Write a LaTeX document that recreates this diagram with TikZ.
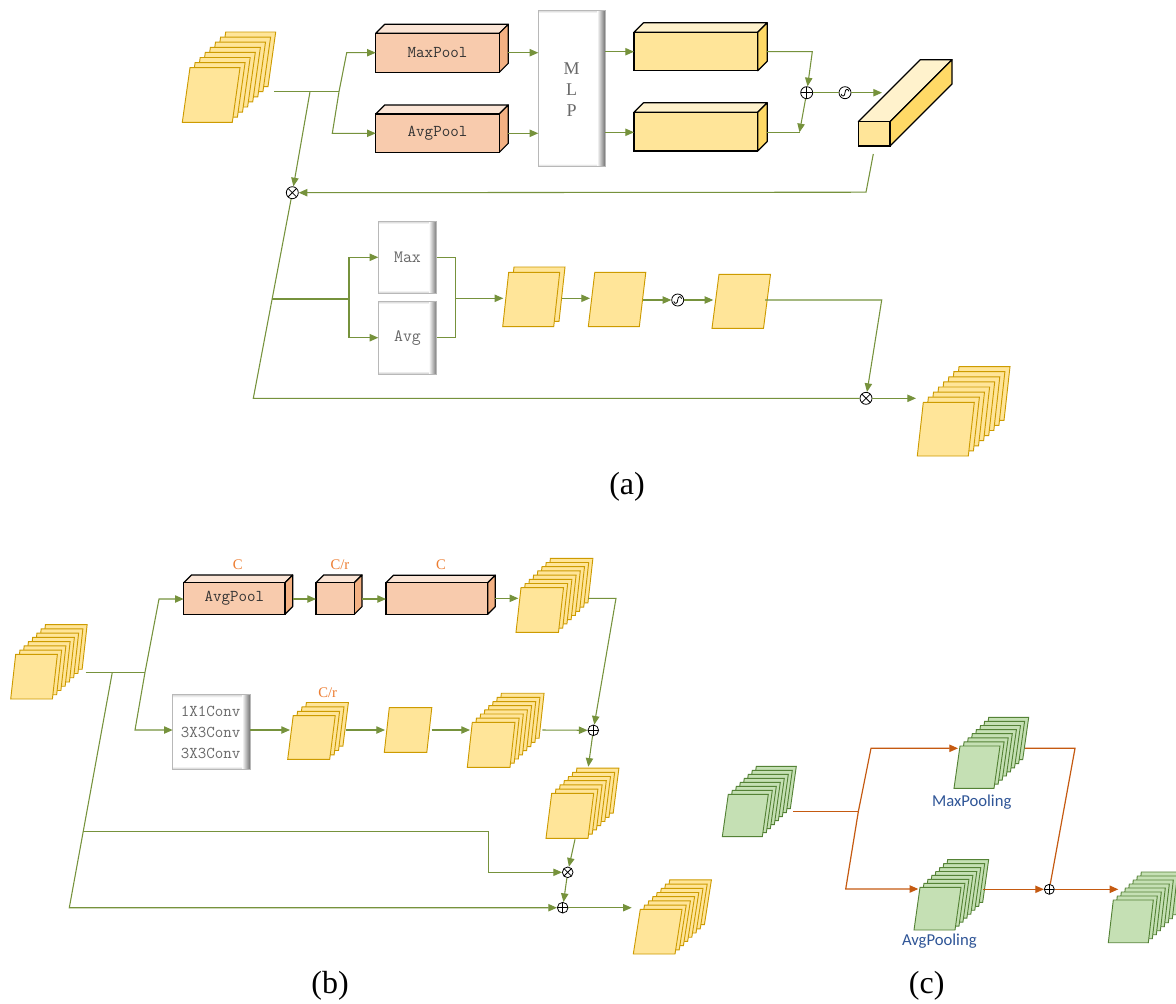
\documentclass[tikz,border=0pt]{standalone}
\usepackage{fontspec}
\setmainfont{Liberation Serif}
\newfontfamily\calfont{Carlito}
\usetikzlibrary{arrows.meta,calc}
\definecolor{lineg}{RGB}{118,146,60}
\definecolor{pagefill}{RGB}{255,229,153}
\definecolor{pagedraw}{RGB}{205,155,0}
\definecolor{gpagefill}{RGB}{197,224,180}
\definecolor{gpagedraw}{RGB}{84,130,53}
\definecolor{peachF}{RGB}{248,203,173}
\definecolor{peachT}{RGB}{251,229,214}
\definecolor{peachS}{RGB}{244,177,131}
\definecolor{yelF}{RGB}{255,229,153}
\definecolor{yelT}{RGB}{255,242,204}
\definecolor{yelS}{RGB}{255,217,102}
\definecolor{orl}{RGB}{197,90,17}
\definecolor{orangetxt}{RGB}{237,125,49}
\definecolor{bluetxt}{RGB}{47,85,151}
\definecolor{graytxt}{RGB}{105,105,105}

% stack of slanted pages: name, x, y (front bottom-left), w, h, slant, n, offset, style
\newcommand{\pagestack}[9]{%
  \pgfmathtruncatemacro{\nlast}{#7-1}%
  \foreach \k in {\nlast,...,0}{%
    \path[#9] ({#2+\k*#8},{#3-\k*#8}) -- ++(#4,0) -- ++(#6,-#5) -- ++(-#4,0) -- cycle;
  }%
  \coordinate (#1) at ({#2+#6/2+#4/2},{#3-#5/2});
}
% cuboid: name, x1, y1, x2, y2 (front face), depth, front, top, side
\newcommand{\cuboid}[9]{%
  \path[draw=black,line width=0.9pt,fill=#8,line join=round] (#2,#3) -- ++(#6,-#6) -- ({#4+#6},{#3-#6}) -- (#4,#3) -- cycle;
  \path[draw=black,line width=0.9pt,fill=#9,line join=round] (#4,#3) -- ++(#6,-#6) -- ({#4+#6},{#5-#6}) -- (#4,#5) -- cycle;
  \path[draw=black,line width=0.9pt,fill=#7] (#2,#3) rectangle (#4,#5);
  \coordinate (#1) at ({(#2+#4)/2},{(#3+#5)/2});
}
% grey glassy box: name, x1, y1, x2, y2
\newcommand{\graybox}[5]{%
  \fill[white] (#2,#3) rectangle (#4,#5);
  \shade[left color=white,right color=black!55] ({#4-8},#3) rectangle (#4,#5);
  \shade[top color=black!18,bottom color=white] (#2,#3) rectangle ({#4-8},{#3+3});
  \shade[top color=white,bottom color=black!22] (#2,{#5-3}) rectangle ({#4-8},#5);
  \draw[black!28,line width=0.6pt] (#2,#3) rectangle (#4,#5);
  \coordinate (#1) at ({(#2+#4)/2},{(#3+#5)/2});
}

\begin{document}
\begin{tikzpicture}[x=0.75pt,y=-0.75pt,
  ln/.style={draw=lineg,line width=0.8pt},
  arr/.style={ln,-{Triangle[length=6.5pt,width=5.5pt]}},
  oln/.style={draw=orl,line width=0.9pt},
  oarr/.style={oln,-{Triangle[length=6.5pt,width=5.5pt]}},
  ypage/.style={fill=pagefill,draw=pagedraw,line width=0.7pt},
  gpage/.style={fill=gpagefill,draw=gpagedraw,line width=0.7pt},
  opsym/.style={circle,draw=black,fill=white,line width=0.6pt,minimum size=9pt,inner sep=0pt},
  oplus/.style={opsym,path picture={\draw[line width=0.6pt] (path picture bounding box.west) -- (path picture bounding box.east) (path picture bounding box.north) -- (path picture bounding box.south);}},
  otimes/.style={opsym,path picture={\draw[line width=0.6pt] (path picture bounding box.north west) -- (path picture bounding box.south east) (path picture bounding box.north east) -- (path picture bounding box.south west);}},
  osig/.style={opsym,path picture={\draw[line width=0.6pt,shift={(path picture bounding box.center)}] (-2.9pt,-1.0pt) .. controls (-2.6pt,-3.2pt) and (0pt,-3.1pt) .. (0pt,0pt) .. controls (0pt,3.1pt) and (2.6pt,3.2pt) .. (2.9pt,1.0pt);}},
  small/.style={minimum size=8pt},
  monot/.style={font=\ttfamily\fontsize{12.4}{15.75}\selectfont,text=black!80,inner sep=0pt},
  monog/.style={font=\ttfamily\fontsize{13}{15.75}\selectfont,text=graytxt,inner sep=0pt},
  otxt/.style={font=\fontsize{11}{13}\selectfont,text=orangetxt,inner sep=0pt},
  btxt/.style={font=\calfont\fontsize{12.5}{14}\selectfont,text=bluetxt,inner sep=0pt},
  captxt/.style={font=\fontsize{24}{28}\selectfont,inner sep=0pt}
]
\clip (0,0) rectangle (1176,1003);
\fill[white] (0,0) rectangle (1176,1003);

%================ (a) =================
\pagestack{ain}{182.3}{122.3}{50}{54.6}{7.7}{8}{5.1}{ypage}
\cuboid{mp}{375.7}{33.3}{499.3}{72.3}{9}{peachF}{peachT}{peachS}
\cuboid{ap}{375.7}{114}{499.3}{152.3}{9}{peachF}{peachT}{peachS}
\node[monot] (tmp) at (mp) {MaxPool};
\node[monot] (tap) at (ap) {AvgPool};
\graybox{mlp}{538.3}{10}{605}{166.7}
\node[align=center,font=\fontsize{13.5}{15.75}\selectfont,text=graytxt,inner sep=0pt] (tmlp) at (571.7,90) {M\\L\\P};
\cuboid{yb1}{634}{32.3}{757.7}{70.7}{9.5}{yelF}{yelT}{yelS}
\cuboid{yb2}{634}{112.3}{757.7}{151}{9.5}{yelF}{yelT}{yelS}
\cuboid{bar}{858.3}{121.7}{890}{146}{62}{yelF}{yelT}{yelS}

\coordinate (a0) at (274,91.7);
\coordinate (a1) at (310,91.7);
\coordinate (a2) at (339,91.7);
\coordinate (a2u) at (346.7,52.7);
\coordinate (a2d) at (332.3,133.3);
\coordinate (mpw) at (375.7,52.7);
\coordinate (apw) at (375.7,133.3);
\coordinate (mpe) at (508.3,52.7);
\coordinate (ape) at (508.3,133.3);
\coordinate (mlpw1) at (538.3,52.7);
\coordinate (mlpw2) at (538.3,133.3);
\coordinate (mlpe1) at (605,51.7);
\coordinate (mlpe2) at (605,132.3);
\coordinate (yb1w) at (634,51.7);
\coordinate (yb2w) at (634,132.3);
\coordinate (yb1e) at (767.2,51.7);
\coordinate (yb2e) at (767.2,132.3);
\coordinate (k1) at (812.3,51.7);
\coordinate (k2) at (799.5,132.3);
\node[oplus] (ap1) at (806.7,92.7) {};
\node[osig] (as1) at (845,92.7) {};
\coordinate (barin) at (882,92.7);
\coordinate (barout) at (873.3,154);
\coordinate (k3) at (866,192.2);
\node[otimes] (ax1) at (292.3,192.7) {};

\draw[ln] (a0) -- (a2);
\draw[arr] (a2) -- (a2u) -- (mpw);
\draw[arr] (a2) -- (a2d) -- (apw);
\draw[arr] (mpe) -- (mlpw1);
\draw[arr] (ape) -- (mlpw2);
\draw[arr] (mlpe1) -- (yb1w);
\draw[arr] (mlpe2) -- (yb2w);
\draw[arr] (yb1e) -- (k1) -- (ap1);
\draw[arr] (ap1) -- (k2);
\draw[ln] (yb2e) -- (k2);
\draw[ln] (ap1) -- (as1);
\draw[arr] (as1) -- (barin);
\draw[arr] (barout) -- (k3) -- (ax1);
\draw[arr] (a1) -- (ax1);

% spatial branch
\graybox{gmax}{378.3}{221}{436.7}{293.3}
\graybox{gavg}{378.3}{301}{436.7}{374}
\node[monog] (tmax) at (407.5,257.3) {Max};
\node[monog] (tavg) at (407.5,337.7) {Avg};
\pagestack{s2}{502.7}{326.7}{51}{54.4}{6}{2}{5.3}{ypage}
\pagestack{pg1}{588.3}{326.7}{51}{54.4}{6.5}{1}{0}{ypage}
\pagestack{pg2}{712}{328.3}{51.5}{54}{7}{1}{0}{ypage}
\pagestack{aout}{917.3}{456}{51}{53.7}{6}{8}{5.1}{ypage}
\node[osig] (as2) at (677.7,300) {};
\node[otimes] (ax2) at (866,398.3) {};

\coordinate (b0) at (272.1,299);
\coordinate (b1) at (349,299);
\coordinate (b1u) at (349,257.3);
\coordinate (b1d) at (349,337.7);
\coordinate (maxw) at (378.3,257.3);
\coordinate (avgw) at (378.3,337.7);
\coordinate (maxe) at (436.7,257.3);
\coordinate (avge) at (436.7,337.7);
\coordinate (c1u) at (455.7,257.3);
\coordinate (c1d) at (455.7,337.7);
\coordinate (c1) at (455.7,298.3);
\coordinate (s2w) at (503.3,298.3);
\coordinate (s2e) at (561.7,298.3);
\coordinate (pg1w) at (590,298.3);
\coordinate (pg1e) at (643.3,300);
\coordinate (pg2w) at (713.3,300);
\coordinate (pg2e) at (765,300);
\coordinate (k4) at (881.7,300);
\coordinate (k5) at (253.3,398.3);
\coordinate (aoutw) at (916,398.3);

\draw[ln] (ax1) -- (k5) -- (ax2);
\draw[ln] (b0) -- (b1);
\draw[arr] (b1) -- (b1u) -- (maxw);
\draw[arr] (b1) -- (b1d) -- (avgw);
\draw[ln] (maxe) -- (c1u) -- (c1d) -- (avge);
\draw[arr] (c1) -- (s2w);
\draw[arr] (s2e) -- (pg1w);
\draw[arr] (pg1e) -- (as2);
\draw[arr] (as2) -- (pg2w);
\draw[arr] (pg2e) -- (k4) -- (ax2);
\draw[arr] (ax2) -- (aoutw);

\node[captxt] (capa) at (627,487) {(a)};

%================ (b) =================
\pagestack{bin}{10.7}{699}{41.7}{44.7}{5}{8}{4.25}{ypage}
\cuboid{bap}{183.7}{582.7}{285}{614.3}{7.7}{peachF}{peachT}{peachS}
\cuboid{bcr}{316}{582.7}{354.3}{614.3}{7.7}{peachF}{peachT}{peachS}
\cuboid{bc}{386}{582.7}{487.7}{614.3}{7.5}{peachF}{peachT}{peachS}
\node[monot] (tbap) at (bap) {AvgPool};
\node[otxt] (lc1) at (237.7,565) {C};
\node[otxt] (lcr1) at (340,565) {C/r};
\node[otxt] (lc2) at (441,565) {C};
\pagestack{bs1}{516}{632.3}{42.5}{44.6}{5}{8}{4.2}{ypage}
\graybox{conv}{172.7}{694.3}{250}{769.3}
\node[monog,align=center,font=\ttfamily\fontsize{12.4}{15.6}\selectfont] (tconv) at (210.7,732.5) {1X1Conv\\3X3Conv\\3X3Conv};
\node[otxt] (lcr2) at (327.7,692.3) {C/r};
\pagestack{bs2}{287.7}{759.3}{42}{43.6}{5.5}{4}{4.4}{ypage}
\pagestack{bpg}{384.3}{752.3}{42.5}{44.6}{5}{1}{0}{ypage}
\pagestack{bs3}{467.3}{767.3}{42.7}{45}{5}{8}{4.15}{ypage}
\pagestack{bs4}{546}{838.3}{42}{45}{5.7}{7}{4.2}{ypage}
\pagestack{bout}{633.3}{954}{41.7}{44.7}{7}{8}{4.2}{ypage}
\node[oplus,small] (bp1) at (593.3,730.3) {};
\node[otimes,small] (bx1) at (567.7,872.3) {};
\node[oplus,small] (bp2) at (562.7,907.7) {};

\coordinate (d0) at (85.7,672.3);
\coordinate (dj) at (112.3,672.3);
\coordinate (d1) at (145,672.3);
\coordinate (d1u) at (159,599);
\coordinate (d1d) at (135,730);
\coordinate (bapw) at (183.7,599);
\coordinate (bape) at (292.7,599);
\coordinate (bcrw) at (316,599);
\coordinate (bcre) at (362,599);
\coordinate (bcw) at (386,599);
\coordinate (bce) at (495,598.3);
\coordinate (bs1w) at (518.3,598.3);
\coordinate (bs1e) at (588.3,598.3);
\coordinate (k6) at (616,598.3);
\coordinate (convw) at (172.7,730);
\coordinate (conve) at (250,730);
\coordinate (bs2w) at (290,730);
\coordinate (bs2e) at (345.7,730);
\coordinate (bpgw) at (385,730);
\coordinate (bpge) at (431.7,730);
\coordinate (bs3w) at (470,730);
\coordinate (bs3e) at (542.3,730);
\coordinate (bs4n) at (588.3,766.7);
\coordinate (bs4s) at (575,839.3);
\coordinate (boutw) at (631.7,907.7);
\coordinate (dlow) at (69.3,907.7);
\coordinate (dmid) at (83.2,831.7);
\coordinate (k7) at (488.3,831.7);
\coordinate (k8) at (488.3,872.3);

\draw[ln] (d0) -- (d1);
\draw[arr] (d1) -- (d1u) -- (bapw);
\draw[arr] (d1) -- (d1d) -- (convw);
\draw[arr] (bape) -- (bcrw);
\draw[arr] (bcre) -- (bcw);
\draw[arr] (bce) -- (bs1w);
\draw[arr] (bs1e) -- (k6) -- (bp1);
\draw[arr] (conve) -- (bs2w);
\draw[arr] (bs2e) -- (bpgw);
\draw[arr] (bpge) -- (bs3w);
\draw[arr] (bs3e) -- (bp1);
\draw[arr] (bp1) -- (bs4n);
\draw[arr] (bs4s) -- (bx1);
\draw[arr] (bx1) -- (bp2);
\draw[arr] (bp2) -- (boutw);
\draw[arr] (dj) -- (dlow) -- (bp2);
\draw[arr] (dmid) -- (k7) -- (k8) -- (bx1);

\node[captxt] (capb) at (330,986) {(b)};

%================ (c) =================
\pagestack{cin}{722.3}{836.7}{40}{42.4}{6}{8}{4}{gpage}
\pagestack{cmax}{954}{788.3}{40}{42.3}{6}{8}{4.1}{gpage}
\pagestack{cavg}{914}{930}{41}{42.7}{6}{8}{3.95}{gpage}
\pagestack{cout}{1108.3}{942.7}{40}{42.7}{5}{8}{4}{gpage}
\node[btxt] (tcmax) at (971.7,802.3) {MaxPooling};
\node[btxt] (tcavg) at (939.3,940.7) {AvgPooling};
\node[oplus,minimum size=7.5pt] (cp) at (1049.3,889.3) {};

\coordinate (e0) at (793.3,811.7);
\coordinate (e1) at (858.3,811.7);
\coordinate (e1u) at (871,748.3);
\coordinate (e1d) at (845.7,889);
\coordinate (cmaxw) at (958,748.3);
\coordinate (cavgw) at (918.3,889);
\coordinate (cmaxe) at (1025,748.3);
\coordinate (k9) at (1075,748.3);
\coordinate (cavge) at (983.3,889.3);
\coordinate (coutw) at (1118.3,889.3);

\draw[oln] (e0) -- (e1);
\draw[oarr] (e1) -- (e1u) -- (cmaxw);
\draw[oarr] (e1) -- (e1d) -- (cavgw);
\draw[oln] (cmaxe) -- (k9) -- (cp);
\draw[oarr] (cavge) -- (cp);
\draw[oarr] (cp) -- (coutw);

\node[captxt] (capc) at (926.7,986) {(c)};
\end{tikzpicture}
\end{document}
